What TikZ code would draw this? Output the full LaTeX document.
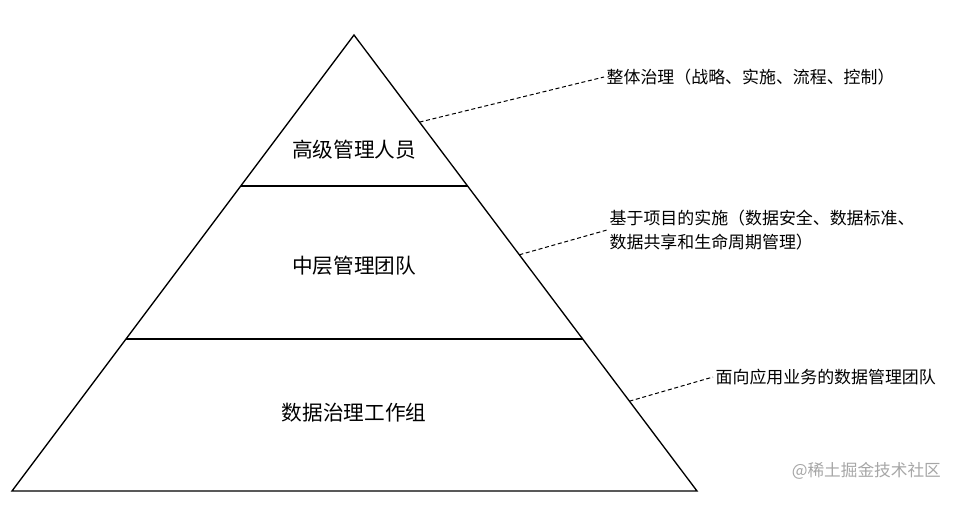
\documentclass[tikz,border=0pt]{standalone}
\usepackage{fontspec}
\newfontfamily\cjk{Noto Sans CJK SC}
\usetikzlibrary{calc,positioning}
\tikzset{
   layer node/.style={font=\cjk\fontsize{15.5}{18}\selectfont,inner sep=0pt},
   note node/.style={anchor=west,align=left,inner sep=1.5pt,font=\cjk\fontsize{12.7}{18}\selectfont},
   leader/.style={dashed,line width=0.75pt,dash pattern=on 3pt off 2pt}
}
\begin{document}
\begin{tikzpicture}[x=0.75pt,y=-0.75pt,line width=1pt]
\useasboundingbox (0,0) rectangle (962,504);
% pyramid corners
\coordinate (top) at (354,35);
\coordinate (bl) at (12,491);
\coordinate (br) at (697,491);
\draw[line join=miter] (top) -- (bl) -- (br) -- cycle;
% layer borders
\draw ($ (top)!0.331!(bl) $) -- ($ (top)!0.331!(br) $);
\draw ($ (top)!0.667!(bl) $) -- ($ (top)!0.667!(br) $);
%
\node[layer node] (high) at (354,150) {高级管理人员};
\node[layer node] (mid) at (354,266) {中层管理团队};
\node[layer node] (low) at (354,413) {数据治理工作组};
%
\node[note node] (n1) at (604,77) {整体治理（战略、实施、流程、控制）};
\node[note node] (n2) at (607,230) {基于项目的实施（数据安全、数据标准、\\数据共享和生命周期管理）};
\node[note node] (n3) at (713,377) {面向应用业务的数据管理团队};
%
\coordinate (p1) at ($ (top)!0.191!(br) $);
\coordinate (p2) at ($ (top)!0.482!(br) $);
\coordinate (p3) at ($ (top)!0.803!(br) $);
\draw[leader] (p1) -- (n1.west);
\draw[leader] (p2) -- (n2.west);
\draw[leader] (p3) -- (n3.west);
%
\node[font=\cjk\fontsize{12.5}{15}\selectfont,text=black!35,anchor=east] (mark) at (946,471) {@稀土掘金技术社区};
\end{tikzpicture}
\end{document}
